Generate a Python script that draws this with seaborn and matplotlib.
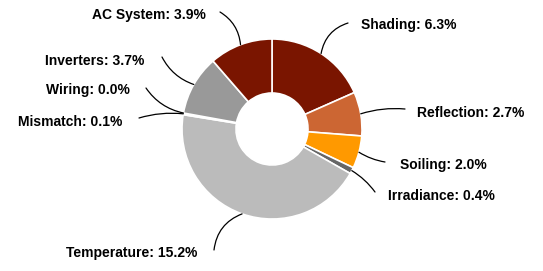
import numpy as np
import matplotlib
matplotlib.use("Agg")
import matplotlib.pyplot as plt
import seaborn as sns

# loss breakdown, clockwise from 12 o'clock
labels = ["Shading", "Reflection", "Soiling", "Irradiance", "Temperature",
          "Mismatch", "Wiring", "Inverters", "AC System"]
values = [6.3, 2.7, 2.0, 0.4, 15.2, 0.1, 0.0, 3.7, 3.9]
colors = ["#7a1500", "#cc6633", "#ff9900", "#666666", "#bbbbbb",
          "#aaaaaa", "#aaaaaa", "#999999", "#7a1500"]

# label text anchor (left edge, centre y) and leader start, in pixels from top-left
text_pos = {
    "Shading": (361, 25), "Reflection": (417, 113), "Soiling": (400, 165),
    "Irradiance": (388, 196), "Temperature": (66, 253), "Mismatch": (18, 122),
    "Wiring": (46, 90), "Inverters": (45, 61), "AC System": (92, 15),
}
line_start = {
    "Shading": (348, 23), "Reflection": (405, 109), "Soiling": (385, 162),
    "Irradiance": (375, 192), "Temperature": (214, 250), "Mismatch": (139, 118),
    "Wiring": (146, 88), "Inverters": (162, 57), "AC System": (220, 12),
}
curve = {
    "Shading": 0.3, "Reflection": 0.1, "Soiling": -0.1, "Irradiance": 0.1,
    "Temperature": -0.3, "Mismatch": -0.1, "Wiring": 0.2, "Inverters": 0.2,
    "AC System": -0.25,
}

sns.set_theme(style="white")
plt.rcParams['font.family'] = ['Liberation Sans', 'DejaVu Sans']

W, H = 543, 271
fig = plt.figure(figsize=(W / 100, H / 100), dpi=100)
ax = fig.add_axes([0, 0, 1, 1])
ax.set_xlim(0, W)
ax.set_ylim(0, H)
ax.set_aspect("equal")
ax.axis("off")

cx, cy, r = 272, H - 129, 90
wedges, _ = ax.pie(values, colors=colors, startangle=90, counterclock=False,
                   center=(cx, cy), radius=r, frame=True,
                   wedgeprops=dict(width=54, edgecolor="white", linewidth=1.2))
ax.set_xlim(0, W)
ax.set_ylim(0, H)
ax.axis("off")

for w, lab, val in zip(wedges, labels, values):
    ang = np.deg2rad((w.theta1 + w.theta2) / 2)
    tip = (cx + r * np.cos(ang), cy + r * np.sin(ang))
    tx, ty = text_pos[lab]
    sx, sy = line_start[lab]
    ax.text(tx, H - ty, f"{lab}: {val:.1f}%", ha="left", va="center",
            fontsize=10, fontweight="bold", color="black")
    ax.annotate("", xy=tip, xytext=(sx, H - sy),
                arrowprops=dict(arrowstyle="-", color="black", lw=0.9,
                                shrinkA=0, shrinkB=0,
                                connectionstyle=f"arc3,rad={curve[lab]}"))

fig.savefig("out.png", dpi=100)
